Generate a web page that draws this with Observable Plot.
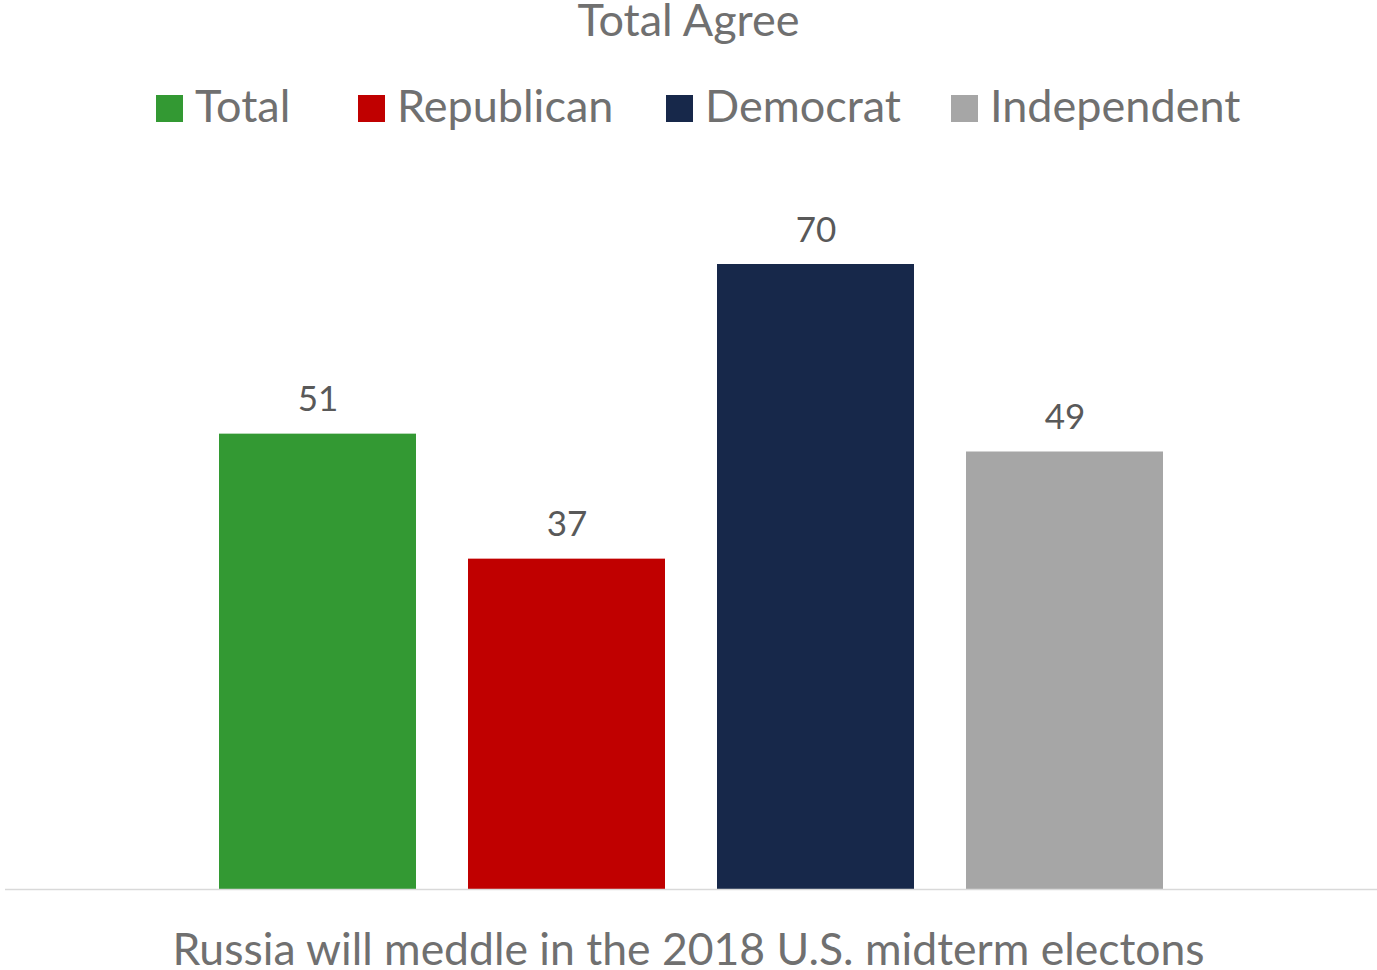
<!DOCTYPE html>
<html>
<head>
<meta charset="utf-8">
<script src="https://cdn.jsdelivr.net/npm/d3@7"></script>
<script src="https://cdn.jsdelivr.net/npm/@observablehq/plot@0.6"></script>
<style>
  html, body { margin: 0; padding: 0; background: #ffffff; }
  body { width: 1377px; height: 970px; position: relative; overflow: hidden; font-family: Lato, "Open Sans", sans-serif; }
  .title { position: absolute; left: 0; width: 1377px; text-align: center; color: #707070; font-size: 45px; line-height: 39px; top: 0px; }
  .swatch { position: absolute; width: 27px; height: 27px; top: 95px; }
  .legend-label { position: absolute; white-space: nowrap; color: #707070; font-size: 45px; line-height: 45px; top: 83px; }
  .caption { position: absolute; left: 0; width: 1377px; text-align: center; color: #707070; font-size: 44.5px; line-height: 40px; top: 928px; white-space: nowrap; }
  #chart { position: absolute; left: 0; top: 140px; }
</style>
</head>
<body>
<div class="title" id="title"></div>
<div id="legend"></div>
<div id="chart"></div>
<div class="caption" id="caption"></div>
<script>
const titleText = "Total Agree";
const captionText = "Russia will meddle in the 2018 U.S. midterm electons";
const series = ["Total", "Republican", "Democrat", "Independent"];
const values = [51, 37, 70, 49];
const colors = ["#339933", "#C00000", "#17284A", "#A6A6A6"];
const legendX = [156, 358, 666, 951];

const data = series.map((s, i) => ({series: s, value: values[i]}));

document.getElementById("title").textContent = titleText;
document.getElementById("caption").textContent = captionText;

const legend = document.getElementById("legend");
series.forEach((s, i) => {
  const sw = document.createElement("div");
  sw.className = "swatch";
  sw.style.left = legendX[i] + "px";
  sw.style.background = colors[i];
  legend.appendChild(sw);
  const lb = document.createElement("div");
  lb.className = "legend-label";
  lb.style.left = (legendX[i] + 39) + "px";
  lb.textContent = s;
  legend.appendChild(lb);
});

const chart = Plot.plot({
  width: 1377,
  height: 770,
  marginLeft: 5,
  marginRight: 0,
  marginTop: 0,
  marginBottom: 21,
  x: {domain: series, range: [165.6, 1216.4], padding: 0.21, axis: null},
  y: {domain: [0, 70], range: [749, 124], axis: null},
  color: {domain: series, range: colors},
  style: {fontFamily: "Lato, 'Open Sans', sans-serif", background: "transparent"},
  marks: [
    Plot.barY(data, {x: "series", y: "value", fill: "series"}),
    Plot.ruleY([0], {stroke: "#D9D9D9", strokeWidth: 1.5}),
    Plot.text(data, {x: "series", y: "value", text: d => String(d.value), lineAnchor: "bottom", dy: -23, fill: "#595959", fontSize: 35})
  ]
});
document.getElementById("chart").appendChild(chart);
</script>
</body>
</html>
